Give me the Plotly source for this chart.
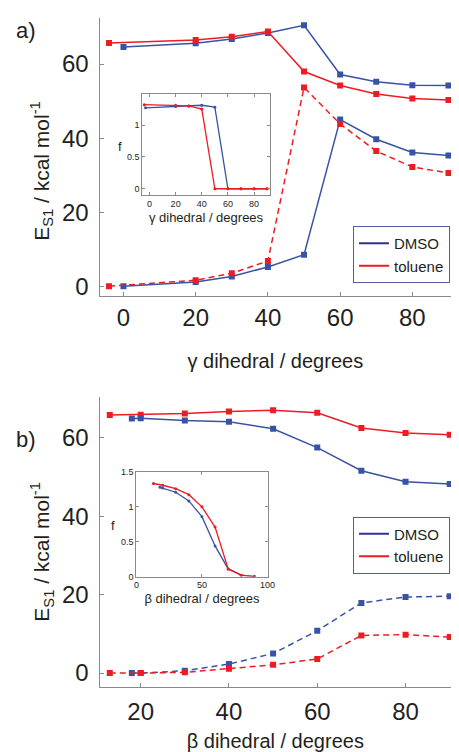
import plotly.graph_objects as go

# ---------------- data ----------------
# panel a (gamma dihedral)
gamma_dmso_x = [0, 20, 30, 40, 50, 60, 70, 80, 90]
dmso_upper_a = [64.6, 65.6, 66.8, 68.4, 70.5, 57.2, 55.2, 54.3, 54.2]
dmso_lower_a = [0.0, 1.1, 2.6, 5.2, 8.5, 45.0, 39.7, 36.1, 35.3]
gamma_tol_x = [-4, 20, 30, 40, 50, 60, 70, 80, 90]
tol_upper_a = [65.7, 66.5, 67.4, 68.8, 58.0, 54.2, 51.9, 50.7, 50.3]
tol_lower_a = [0.0, 1.6, 3.5, 6.8, 53.7, 43.8, 36.5, 32.2, 30.6]

inset_a_dmso_x = [-3, 20, 30, 40, 50, 60, 70, 80, 90]
inset_a_dmso_f = [1.27, 1.29, 1.30, 1.31, 1.28, 0, 0, 0, 0]
inset_a_tol_x = [-4, 20, 30, 40, 50, 60, 70, 80, 90]
inset_a_tol_f = [1.32, 1.31, 1.30, 1.25, 0, 0, 0, 0, 0]

# panel b (beta dihedral)
beta_dmso_x = [18, 20, 30, 40, 50, 60, 70, 80, 90]
dmso_upper_b = [64.9, 65.0, 64.4, 64.1, 62.3, 57.5, 51.6, 48.8, 48.2]
dmso_lower_b = [0.0, 0.0, 0.6, 2.3, 5.0, 10.8, 17.9, 19.4, 19.6]
beta_tol_x = [13, 20, 30, 40, 50, 60, 70, 80, 90]
tol_upper_b = [65.8, 65.9, 66.2, 66.7, 67.0, 66.4, 62.5, 61.2, 60.8]
tol_lower_b = [0.0, 0.0, 0.2, 1.1, 2.1, 3.6, 9.6, 9.8, 9.2]

inset_b_dmso_f = [1.28, 1.27, 1.21, 1.085, 0.86, 0.44, 0.11, 0.02, 0.0]
inset_b_tol_f = [1.335, 1.31, 1.26, 1.175, 1.0, 0.71, 0.11, 0.02, 0.0]

main_y_ticks = [0, 20, 40, 60]
gamma_ticks = [0, 20, 40, 60, 80]
beta_ticks = [20, 40, 60, 80]
inset_a_xticks = [0, 20, 40, 60, 80]
inset_a_yticks = [0, 0.5, 1]
inset_b_xticks = [0, 50, 100]
inset_b_yticks = [0, 0.5, 1, 1.5]

series_names = ["DMSO", "toluene"]

# ---------------- style ----------------
W, H = 459, 752
BLUE = "#3953A4"
RED = "#ED1C24"
LEG_BLUE = "#2E3192"
AX = "#8a8a8a"
TXT = "#231f20"
FONT = "Liberation Sans, Arial, sans-serif"


def px_x(p):
    return p / W


def px_y(p):
    return 1 - p / H


fig = go.Figure()


def add(x, y, color, xa, ya, dash="solid", msize=6, lw=1.5, symbol="square"):
    fig.add_trace(go.Scatter(
        x=x, y=y, mode="lines+markers", xaxis=xa, yaxis=ya,
        line=dict(color=color, width=lw, dash=dash),
        marker=dict(color=color, size=msize, symbol=symbol),
        showlegend=False, hoverinfo="skip"))


# panel a main
add(gamma_dmso_x, dmso_upper_a, BLUE, "x", "y")
add(gamma_tol_x, tol_upper_a, RED, "x", "y")
add(gamma_dmso_x, dmso_lower_a, BLUE, "x", "y")
add(gamma_tol_x, tol_lower_a, RED, "x", "y", dash="6px,4px")
# panel a inset
add(inset_a_dmso_x, inset_a_dmso_f, BLUE, "x2", "y2", msize=3, lw=1.3, symbol="circle")
add(inset_a_tol_x, inset_a_tol_f, RED, "x2", "y2", msize=3, lw=1.3, symbol="circle")
# panel b main
add(beta_tol_x, tol_upper_b, RED, "x3", "y3")
add(beta_dmso_x, dmso_upper_b, BLUE, "x3", "y3")
add(beta_dmso_x, dmso_lower_b, BLUE, "x3", "y3", dash="6px,4px")
add(beta_tol_x, tol_lower_b, RED, "x3", "y3", dash="6px,4px")
# panel b inset
add(beta_dmso_x, inset_b_dmso_f, BLUE, "x4", "y4", msize=3, lw=1.3, symbol="circle")
add(beta_tol_x, inset_b_tol_f, RED, "x4", "y4", msize=3, lw=1.3, symbol="circle")

# legend entries
for leg, xa, ya in [("legend", "x", "y"), ("legend2", "x3", "y3")]:
    for name, col in zip(series_names, [LEG_BLUE, RED]):
        fig.add_trace(go.Scatter(
            x=[None], y=[None], mode="lines", name=name, xaxis=xa, yaxis=ya,
            line=dict(color=col, width=2), legend=leg, showlegend=True))

main_axis = dict(showline=True, linecolor=AX, linewidth=1.3, ticks="inside",
                 ticklen=4, tickcolor=AX, showgrid=False, zeroline=False,
                 tickfont=dict(family=FONT, size=24, color=TXT))
inset_axis = dict(showline=True, linecolor=AX, linewidth=1, ticks="inside",
                  ticklen=3, tickcolor=AX, showgrid=False, zeroline=False,
                  mirror="ticks", tickfont=dict(family=FONT, size=9, color=TXT))

title_font = dict(family=FONT, size=20, color=TXT)
legend_style = dict(xanchor="right", yanchor="top",
                    bordercolor="#4f5bab", borderwidth=1, bgcolor="white",
                    font=dict(family=FONT, size=15, color=TXT), itemwidth=30,
                    tracegroupgap=0)

fig.update_layout(
    width=W, height=H, margin=dict(l=0, r=0, t=0, b=0),
    paper_bgcolor="white", plot_bgcolor="rgba(0,0,0,0)",
    font=dict(family=FONT, color=TXT),
    xaxis=dict(main_axis, domain=[px_x(99), 1.0], range=[-6.6, 90.7],
               tickvals=gamma_ticks, anchor="y", ticklabelstandoff=0,
               title=dict(text="γ dihedral / degrees", font=title_font, standoff=24)),
    yaxis=dict(main_axis, domain=[px_y(294.7), px_y(13)], range=[-2.6, 72.5],
               tickvals=main_y_ticks, anchor="x", ticklabelstandoff=5),
    xaxis2=dict(inset_axis, domain=[px_x(142.7), px_x(273.3)], range=[-5.5, 92],
                tickvals=inset_a_xticks, anchor="y2",
                title=dict(text="γ dihedral / degrees",
                           font=dict(family=FONT, size=13, color=TXT), standoff=4)),
    yaxis2=dict(inset_axis, domain=[px_y(192.7), px_y(90)], range=[-0.1, 1.49],
                tickvals=inset_a_yticks, anchor="x2"),
    xaxis3=dict(main_axis, domain=[px_x(99), 1.0], range=[10.7, 90.3],
                tickvals=beta_ticks, anchor="y3", ticklabelstandoff=3,
                title=dict(text="β dihedral / degrees", font=title_font, standoff=12)),
    yaxis3=dict(main_axis, domain=[px_y(691), px_y(397.3)], range=[-3.5, 70.4],
                tickvals=main_y_ticks, anchor="x3", ticklabelstandoff=5),
    xaxis4=dict(inset_axis, domain=[px_x(136.7), px_x(271)], range=[0, 100],
                tickvals=inset_b_xticks, anchor="y4",
                title=dict(text="β dihedral / degrees",
                           font=dict(family=FONT, size=13, color=TXT), standoff=4)),
    yaxis4=dict(inset_axis, domain=[px_y(579.3), px_y(473.3)], range=[0, 1.5],
                tickvals=inset_b_yticks, anchor="x4"),
    legend=dict(legend_style, x=px_x(458), y=px_y(224)),
    legend2=dict(legend_style, x=px_x(458), y=px_y(518.5)),
)

ytitle = "E<sub>S1</sub> / kcal mol<sup>-1</sup>"
annos = [
    dict(text=ytitle, x=px_x(40), y=px_y(168), textangle=-90, font=dict(family=FONT, size=21, color=TXT)),
    dict(text=ytitle, x=px_x(40), y=px_y(554), textangle=-90, font=dict(family=FONT, size=21, color=TXT)),
    dict(text="a)", x=px_x(24), y=px_y(26), font=dict(family=FONT, size=22, color=TXT)),
    dict(text="b)", x=px_x(24), y=px_y(440), font=dict(family=FONT, size=22, color=TXT)),
    dict(text="f", x=px_x(120), y=px_y(143), font=dict(family=FONT, size=13, color=TXT)),
    dict(text="f", x=px_x(113), y=px_y(528), font=dict(family=FONT, size=13, color=TXT)),
]
for a in annos:
    a.update(xref="paper", yref="paper", showarrow=False, xanchor="center", yanchor="middle")
fig.update_layout(annotations=annos)

fig.write_html("out.html")
